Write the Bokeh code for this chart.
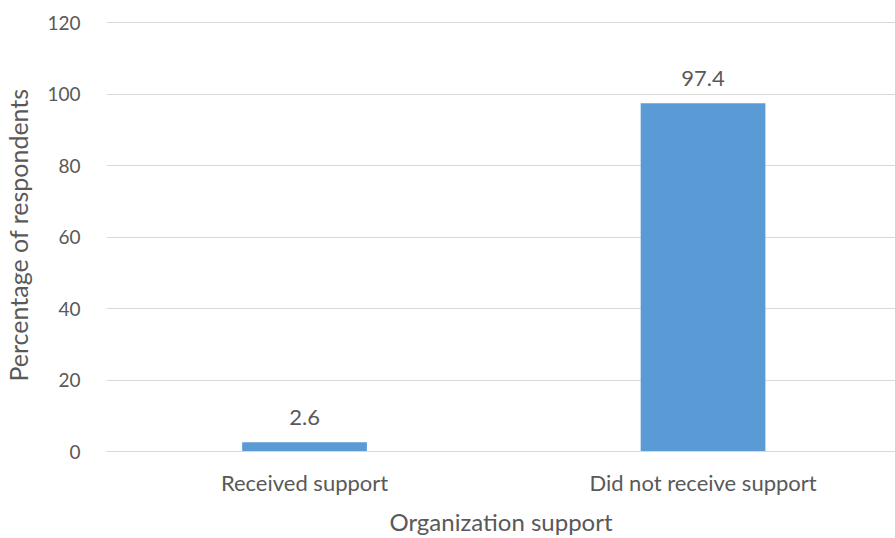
from bokeh.plotting import figure
from bokeh.models import Range1d, FixedTicker, ColumnDataSource
from bokeh.core.properties import value
from bokeh.embed import file_html
from bokeh.resources import INLINE

categories = ["Received support", "Did not receive support"]
percentages = [2.6, 97.4]
y_ticks = [0, 20, 40, 60, 80, 100, 120]

positions = list(range(len(categories)))
labels = [f"{v:.1f}" for v in percentages]
src = ColumnDataSource(dict(x=positions, top=percentages, label=labels))

FONT = "Lato"
GRAY = "#595959"

p = figure(width=895, height=538, output_backend="svg", toolbar_location=None,
           x_range=Range1d(-0.497, 1.483), y_range=Range1d(0, 121.12),
           min_border_left=104, min_border_right=0, min_border_top=18, min_border_bottom=87)
p.outline_line_color = None
p.background_fill_color = "white"
p.border_fill_color = "white"

p.vbar(x="x", top="top", width=0.313, bottom=0, source=src, fill_color="#5B9BD5", line_color=None)
p.text(x="x", y="top", text="label", source=src, text_align="center", text_baseline="alphabetic",
       y_offset=-25, text_font=value(FONT), text_font_size="22px", text_color=GRAY)

p.xgrid.grid_line_color = None
p.ygrid.grid_line_color = "#d9d9d9"
p.ygrid.ticker = FixedTicker(ticks=y_ticks)

p.yaxis.ticker = FixedTicker(ticks=y_ticks)
p.yaxis.axis_line_color = None
p.yaxis.major_tick_line_color = None
p.yaxis.minor_tick_line_color = None
p.yaxis.major_label_standoff = 20
p.yaxis.axis_label = "Percentage of respondents"
p.yaxis.axis_label_standoff = 11
p.yaxis.axis_label_text_font_style = "normal"
p.yaxis.major_label_text_font_size = "19px"
p.yaxis.axis_label_text_font_size = "25px"

p.xaxis.ticker = FixedTicker(ticks=positions)
p.xaxis.major_label_overrides = {i: c for i, c in zip(positions, categories)}
p.xaxis.axis_line_color = "#d9d9d9"
p.xaxis.major_tick_line_color = None
p.xaxis.minor_tick_line_color = None
p.xaxis.major_label_standoff = 11
p.xaxis.axis_label = "Organization support"
p.xaxis.axis_label_standoff = 8
p.xaxis.axis_label_text_font_style = "normal"
p.xaxis.major_label_text_font_size = "22px"
p.xaxis.axis_label_text_font_size = "24px"

for ax in (p.xaxis, p.yaxis):
    ax.major_label_text_font = FONT
    ax.major_label_text_color = GRAY
    ax.axis_label_text_font = FONT
    ax.axis_label_text_color = GRAY

open("out.html", "w").write(file_html(p, INLINE))
